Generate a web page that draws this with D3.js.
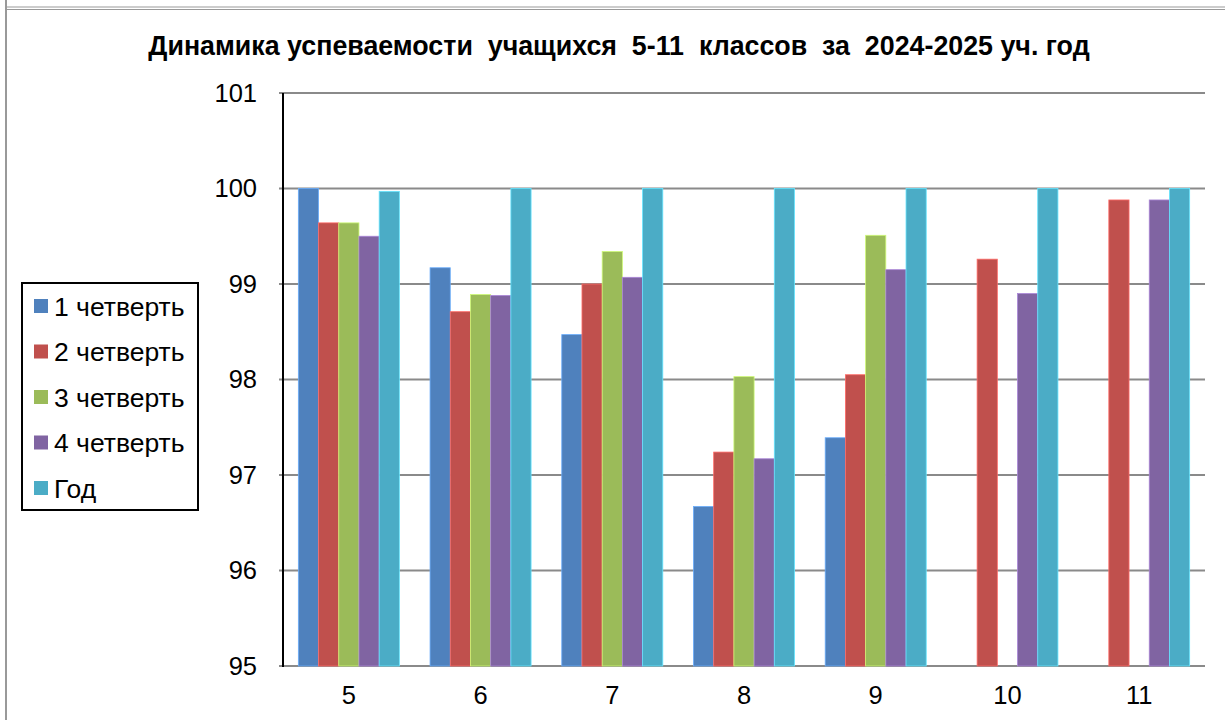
<!DOCTYPE html>
<html lang="ru">
<head>
<meta charset="utf-8">
<title>Динамика успеваемости</title>
<script src="https://d3js.org/d3.v7.min.js"></script>
<style>
  body{margin:0;background:#fff;font-family:"Liberation Sans",Arial,sans-serif;}
  svg{display:block;}
</style>
</head>
<body>
<div id="chart"></div>
<script>
// классы и четверти
var classes = ["5", "6", "7", "8", "9", "10", "11"]
var seriesNames = ["1 четверть", "2 четверть", "3 четверть", "4 четверть", "Год"]
var colors = ["#4F81BD", "#C0504D", "#9BBB59", "#8064A2", "#4BACC6"]

// успеваемость, % (null - нет данных)
var q1   = [100,   99.17, 98.47, 96.67, 97.39, null,  null]
var q2   = [99.64, 98.71, 99.00, 97.24, 98.05, 99.26, 99.88]
var q3   = [99.64, 98.89, 99.34, 98.03, 99.51, null,  null]
var q4   = [99.50, 98.88, 99.07, 97.17, 99.15, 98.90, 99.88]
var year = [99.97, 100,   100,   100,   100,   100,   100]
var yTicks = [95, 96, 97, 98, 99, 100, 101]

var values = [q1, q2, q3, q4, year]

var w = 1225, h = 720
var plotLeft = 283, plotRight = 1205, plotTop = 93, plotBottom = 666
var labelSize = 25.5

var svg = d3.select("#chart").append("svg")
    .attr("width", w)
    .attr("height", h)

// рамка
svg.append("line").attr("x1", 6).attr("x2", 6).attr("y1", 0).attr("y2", h)
    .attr("stroke", "#999").attr("stroke-width", 2)
svg.append("line").attr("x1", 6).attr("x2", w).attr("y1", 7).attr("y2", 7)
    .attr("stroke", "#999").attr("stroke-width", 1)
svg.append("line").attr("x1", 6).attr("x2", w).attr("y1", 9.5).attr("y2", 9.5)
    .attr("stroke", "#999").attr("stroke-width", 1)

svg.append("text")
    .attr("x", 619)
    .attr("y", 55)
    .attr("text-anchor", "middle")
    .attr("font-size", 26.8)
    .attr("font-weight", "bold")
    .style("white-space", "pre")
    .text("Динамика успеваемости  учащихся  5-11  классов  за  2024-2025 уч. год")

var xScale = d3.scaleBand()
    .domain(classes)
    .range([plotLeft, plotRight])
    .paddingInner(0.233)
    .paddingOuter(0.1165)

var xInner = d3.scaleBand()
    .domain(d3.range(seriesNames.length))
    .range([0, xScale.bandwidth()])

var yScale = d3.scaleLinear()
    .domain([95, 101])
    .range([plotBottom, plotTop])

// сетка
svg.append("g").selectAll("line")
    .data(yTicks)
    .enter()
    .append("line")
    .attr("x1", plotLeft - 4)
    .attr("x2", plotRight)
    .attr("y1", function(d){ return yScale(d) })
    .attr("y2", function(d){ return yScale(d) })
    .attr("stroke", "#8a8a8a")
    .attr("stroke-width", 2)

// столбцы
values.forEach(function(arr, s){
    svg.append("g").selectAll("rect")
        .data(arr.map(function(v, i){ return {c: classes[i], v: v} }).filter(function(d){ return d.v != null }))
        .enter()
        .append("rect")
        .attr("x", function(d){ return xScale(d.c) + xInner(s) })
        .attr("y", function(d){ return yScale(d.v) })
        .attr("width", xInner.bandwidth())
        .attr("height", function(d){ return plotBottom - yScale(d.v) })
        .attr("fill", colors[s])
        .attr("stroke", d3.color(colors[s]).brighter(0.8))
        .attr("stroke-width", 0.8)
})

// оси
var yAxis = d3.axisLeft(yScale).tickValues(yTicks).tickFormat(d3.format("d")).tickSize(0).tickPadding(26)
var gy = svg.append("g").attr("transform", "translate(" + plotLeft + ",0)").call(yAxis)
gy.select(".domain").remove()
gy.selectAll("text").attr("font-size", labelSize).attr("font-family", "Liberation Sans, Arial, sans-serif").attr("fill", "#000")

svg.append("line").attr("x1", plotLeft).attr("x2", plotLeft).attr("y1", plotTop).attr("y2", plotBottom + 1)
    .attr("stroke", "#000").attr("stroke-width", 2)

var xAxis = d3.axisBottom(xScale).tickSize(0).tickPadding(20)
var gx = svg.append("g").attr("transform", "translate(0," + plotBottom + ")").call(xAxis)
gx.select(".domain").remove()
gx.selectAll("text").attr("font-size", labelSize).attr("font-family", "Liberation Sans, Arial, sans-serif").attr("fill", "#000")

// легенда
var lg = svg.append("g").attr("transform", "translate(22,283)")
lg.append("rect").attr("width", 176).attr("height", 227)
    .attr("fill", "#fff").attr("stroke", "#000").attr("stroke-width", 2)
var item = lg.selectAll(".item")
    .data(seriesNames)
    .enter()
    .append("g")
    .attr("transform", function(d, i){ return "translate(12," + (23 + i * 45.5) + ")" })
item.append("rect").attr("x", 0).attr("y", -7).attr("width", 14).attr("height", 14)
    .attr("fill", function(d, i){ return colors[i] })
item.append("text").attr("x", 20).attr("y", 9.5)
    .attr("font-size", 26.5)
    .text(function(d){ return d })
</script>
</body>
</html>
